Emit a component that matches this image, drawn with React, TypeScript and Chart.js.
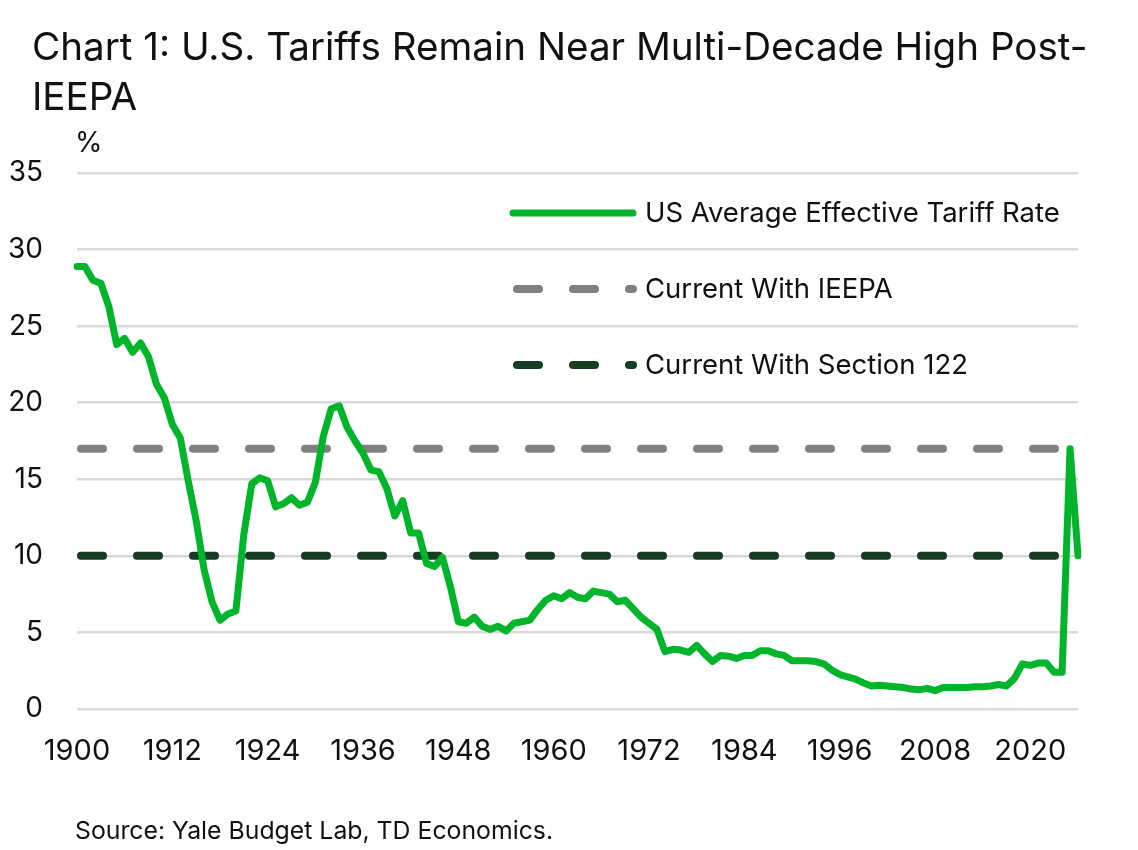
import React, { useEffect, useRef } from 'react';
import { Chart, registerables } from 'chart.js';

Chart.register(...registerables);

const FONT = 'Inter, "Noto Sans", sans-serif';

const START_YEAR = 1900;
const END_YEAR = 2026;
const years: string[] = [];
for (let y = START_YEAR; y <= END_YEAR; y++) years.push(String(y));

const tariffRate: number[] = [
  // 1900-1909
  28.9, 28.9, 28.0, 27.8, 26.3, 23.8, 24.2, 23.3, 23.9, 23.0,
  // 1910-1919
  21.2, 20.3, 18.6, 17.7, 14.9, 12.3, 9.1, 7.0, 5.8, 6.2,
  // 1920-1929
  6.4, 11.4, 14.7, 15.1, 14.9, 13.2, 13.4, 13.8, 13.3, 13.5,
  // 1930-1939
  14.8, 17.8, 19.6, 19.8, 18.4, 17.5, 16.7, 15.6, 15.5, 14.4,
  // 1940-1949
  12.6, 13.6, 11.5, 11.5, 9.5, 9.3, 9.9, 8.0, 5.7, 5.6,
  // 1950-1959
  6.0, 5.4, 5.2, 5.4, 5.1, 5.6, 5.7, 5.8, 6.5, 7.1,
  // 1960-1969
  7.4, 7.2, 7.6, 7.3, 7.2, 7.7, 7.6, 7.5, 7.0, 7.1,
  // 1970-1979
  6.55, 6.0, 5.6, 5.2, 3.75, 3.9, 3.85, 3.7, 4.15, 3.6,
  // 1980-1989
  3.1, 3.5, 3.45, 3.3, 3.5, 3.5, 3.8, 3.8, 3.6, 3.5,
  // 1990-1999
  3.15, 3.15, 3.15, 3.1, 2.95, 2.55, 2.25, 2.1, 1.95, 1.7,
  // 2000-2009
  1.5, 1.55, 1.5, 1.45, 1.4, 1.3, 1.25, 1.35, 1.2, 1.4,
  // 2010-2019
  1.4, 1.4, 1.4, 1.45, 1.45, 1.5, 1.6, 1.5, 2.0, 2.95,
  // 2020-2026
  2.85, 3.0, 3.0, 2.4, 2.4, 17.0, 10.0,
];

const currentWithIeepa = 17;
const currentWithSection122 = 10;

const yTicks: number[] = [0, 5, 10, 15, 20, 25, 30, 35];
const xTickStep = 12;

const seriesLabels = [
  'US Average Effective Tariff Rate',
  'Current With IEEPA',
  'Current With Section 122',
];

const GREEN = '#00b52a';
const GRAY = '#808080';
const DARK = '#163d22';
const TEXT = '#111111';

const legendPlugin = {
  id: 'customLegend',
  afterDraw(chart: any) {
    const ctx = chart.ctx;
    const x0 = 513;
    const x1 = 633;
    const ys = [213, 289, 365];
    ctx.save();
    chart.data.datasets.forEach((ds: any, i: number) => {
      const y = ys[i];
      ctx.beginPath();
      ctx.strokeStyle = ds.borderColor;
      ctx.lineWidth = ds.borderWidth;
      ctx.lineCap = 'round';
      ctx.setLineDash(ds.borderDash || []);
      ctx.lineDashOffset = ds.borderDashOffset || 0;
      ctx.moveTo(x0, y);
      ctx.lineTo(x1, y);
      ctx.stroke();
      ctx.setLineDash([]);
      ctx.fillStyle = TEXT;
      ctx.font = `27.5px ${FONT}`;
      ctx.textBaseline = 'middle';
      ctx.textAlign = 'left';
      ctx.fillText(ds.label, 645, y + 1);
    });
    ctx.restore();
  },
};

export default function App() {
  const ref = useRef<HTMLCanvasElement | null>(null);

  useEffect(() => {
    if (!ref.current) return;
    const chart = new Chart(ref.current, {
      type: 'line',
      data: {
        labels: years,
        datasets: [
          {
            label: seriesLabels[0],
            data: tariffRate,
            borderColor: GREEN,
            backgroundColor: GREEN,
            borderWidth: 7,
            borderCapStyle: 'round',
            borderJoinStyle: 'round',
            pointRadius: 0,
            tension: 0,
            order: 0,
          },
          {
            label: seriesLabels[1],
            data: years.map(() => currentWithIeepa),
            borderColor: GRAY,
            backgroundColor: GRAY,
            borderWidth: 8,
            borderDash: [22, 34],
            borderDashOffset: -4,
            borderCapStyle: 'round',
            pointRadius: 0,
            order: 1,
          },
          {
            label: seriesLabels[2],
            data: years.map(() => currentWithSection122),
            borderColor: DARK,
            backgroundColor: DARK,
            borderWidth: 8,
            borderDash: [22, 34],
            borderDashOffset: -4,
            borderCapStyle: 'round',
            pointRadius: 0,
            order: 2,
          },
        ],
      },
      options: {
        responsive: false,
        animation: false,
        devicePixelRatio: 1,
        layout: { padding: { top: 173, right: 60, left: 0, bottom: 0 } },
        plugins: {
          legend: { display: false },
          tooltip: { enabled: false },
          title: { display: false },
        },
        scales: {
          x: {
            type: 'category',
            grid: { display: false, drawTicks: false },
            border: { display: false },
            ticks: {
              autoSkip: false,
              maxRotation: 0,
              minRotation: 0,
              padding: 25,
              color: TEXT,
              font: { family: FONT, size: 29 },
              callback: (_v: any, i: number) =>
                (Number(years[i]) - START_YEAR) % xTickStep === 0 ? years[i] : '',
            },
            afterFit: (s: any) => {
              s.height = 141;
            },
          },
          y: {
            min: 0,
            max: 35,
            afterBuildTicks: (s: any) => {
              s.ticks = yTicks.map((v) => ({ value: v }));
            },
            grid: { color: '#d9d9d9', lineWidth: 2.5, drawTicks: false },
            border: { display: false },
            ticks: {
              padding: 34,
              color: TEXT,
              font: { family: FONT, size: 28 },
            },
            afterFit: (s: any) => {
              s.width = 77;
            },
          },
        },
      },
      plugins: [legendPlugin],
    });
    return () => chart.destroy();
  }, []);

  return (
    <div style={{ position: 'fixed', left: 0, top: 0, width: 1138, height: 850, background: '#fff', fontFamily: FONT, color: TEXT }}>
      <canvas ref={ref} width={1138} height={850} style={{ position: 'absolute', left: 0, top: 0, width: 1138, height: 850 }} />
      <div style={{ position: 'absolute', left: 32, top: 21, fontSize: 38.6, lineHeight: '50px', whiteSpace: 'nowrap' }}>
        Chart 1: U.S. Tariffs Remain Near Multi-Decade High Post-
        <br />
        IEEPA
      </div>
      <div style={{ position: 'absolute', left: 75, top: 125, fontSize: 28, lineHeight: '34px' }}>%</div>
      <div style={{ position: 'absolute', left: 75, top: 815, fontSize: 24.8, lineHeight: '30px' }}>
        Source: Yale Budget Lab, TD Economics.
      </div>
    </div>
  );
}
